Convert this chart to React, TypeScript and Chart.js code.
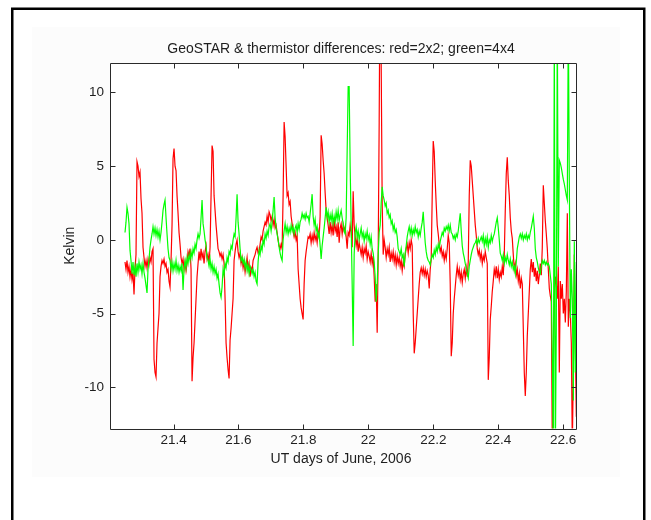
import React, { useEffect, useRef } from 'react';
import { Chart, registerables } from 'chart.js';

Chart.register(...registerables);

// Uniform sampling of the time axis (UT days of June 2006)
const T_START = 21.2505;
const T_STEP = 0.003082;

// 2x2 differences (red), Kelvin
const RED_K = [
  -1.5, -2.0, -1.4, -2.2, -1.8, -2.5, -2.0, -2.7, -2.2, -3.7,
  -2.0, -1.0, 5.3, 5.0, 4.3, 4.6, 2.8, 1.8, -0.5, -1.2,
  -1.8, -1.4, -1.9, -1.3, -1.7, -1.2, -1.5, -0.8, -0.6, -8.1,
  -9.0, -9.3, -7.0, -6.0, -5.0, -2.5, -1.8, -1.4, -1.6, -1.3,
  -1.8, -1.6, -2.2, -2.0, -2.8, -3.2, -1.4, 1.0, 5.5, 6.2,
  5.0, 4.7, 3.0, 1.8, 0.5, -0.3, -1.2, -1.6, -1.3, -2.0,
  -1.5, -2.1, -1.6, -0.8, -1.1, -0.6, -2.0, -9.6, -8.0, -7.0,
  -5.5, -4.0, -2.5, -1.6, -0.8, -1.4, -0.6, -1.2, -0.9, -1.6,
  -0.8, -0.4, -1.3, -1.0, -1.6, -0.5, 3.0, 6.4, 6.0, 3.0,
  2.0, 1.0, 0.2, -0.6, -0.8, -1.1, -0.9, -1.3, -1.0, -1.6,
  -4.0, -7.0, -8.0, -8.8, -9.4, -6.8, -6.0, -5.0, -4.0, -1.4,
  -0.8, -0.3, 0.0, -0.8, -1.2, -0.9, -1.6, -1.2, -1.9, -1.5,
  -2.2, -1.7, -1.2, -2.0, -1.6, -2.5, -1.9, -2.1, -1.4, -1.2,
  -1.0, -0.7, -0.5, -0.9, -0.8, -0.3, 0.2, 0.0, 0.6, 0.9,
  1.2, 1.0, 1.6, 1.2, 1.9, 1.7, 1.3, 1.6, 1.0, 1.4,
  0.8, 1.0, 0.5, 0.0, -0.4, -0.6, -0.3, -0.6, 3.0, 8.0,
  7.0, 5.0, 3.0, 3.2, 2.4, 2.6, 1.6, 1.1, 0.6, 0.2,
  0.5, 0.0, 0.3, -2.0, -3.0, -4.0, -4.6, -5.0, -5.4, -3.0,
  -1.4, -0.8, -0.3, 0.2, 0.1, 0.4, -0.2, 0.3, -0.1, 0.5,
  0.0, 0.3, -0.2, 0.6, 0.2, 1.6, 7.1, 6.5, 5.4, 4.5,
  3.2, 2.0, 1.5, 1.0, 0.4, 1.2, 0.5, 1.0, 0.3, 1.4,
  0.6, 0.9, 0.2, 1.2, -0.2, 0.8, 1.1, 0.4, 1.0, 0.6,
  0.9, 0.2, -0.6, 0.5, 0.3, 1.0, 0.5, -0.5, 3.3, 1.0,
  0.2, -0.4, 0.1, -0.8, -0.2, -0.6, -1.0, -0.5, -1.2, -0.6,
  -0.9, -0.4, -1.3, -0.8, -1.1, -1.5, -0.9, -1.6, -1.1, -2.5,
  -4.2, -3.0, -6.3, -1.0, 8.0, 20.0, 12.0, 2.5, -1.0, 0.0,
  -0.5, -1.2, -0.6, -1.0, -0.5, -1.5, -0.9, -1.3, -0.8, -1.5,
  -1.0, -1.7, -1.1, -1.6, -1.2, -1.8, -1.4, -2.1, -1.5, -1.8,
  -1.0, -0.6, -0.3, -0.9, -0.2, -0.6, 0.0, -0.4, -5.0, -7.7,
  -7.0, -6.0, -5.0, -4.0, -3.0, -2.2, -1.9, -2.3, -1.9, -2.4,
  -2.0, -2.5, -2.1, -2.4, -3.3, -2.0, -1.3, 3.0, 6.7, 6.0,
  4.0, 2.4, 1.0, 0.4, -0.3, -0.8, -0.5, -1.1, -0.8, -1.4,
  -0.9, -1.3, -0.6, 0.3, -0.2, -3.0, -7.9, -7.0, -5.0, -4.0,
  -3.2, -2.4, -1.8, -2.4, -2.0, -2.7, -2.2, -2.9, -2.3, -2.0,
  -2.6, -1.9, -2.5, -1.5, 3.0, 5.4, 5.0, 4.0, 3.0, 2.0,
  1.0, 0.3, -0.6, -1.0, -0.7, -1.3, -0.9, -1.6, -1.1, -1.4,
  -0.8, -1.2, -1.6, -9.5, -8.0, -5.4, -4.5, -3.5, -2.8, -2.0,
  -2.4, -1.8, -2.6, -2.0, -2.7, -2.2, -2.5, -1.8, -2.4, -1.0,
  2.0, 4.5, 5.6, 4.0, 3.0, 1.5, 0.6, 0.1, -1.0, -2.0,
  -1.6, -2.4, -2.0, -2.8, -2.3, -3.3, -2.6, -3.0, -6.0, -9.0,
  -10.6, -9.0, -6.5, -5.0, -3.5, -2.0, -1.3, -2.2, -1.5, -2.5,
  -1.9, -2.8, -2.1, -3.0, -2.4, -1.6, -2.4, -0.5, 3.7, 2.5,
  1.3, 0.4, -0.6, -2.0, -3.3, -3.8, -4.2, -14.0, -8.8, -4.0,
  -2.5, -3.0, -4.0, -1.8, -9.0, -2.8, -4.0, -3.0, -5.0, -4.0,
  -5.6, -3.5, 1.8, -5.9, -4.0, -5.0, -7.0, -14.0, -9.0, -1.0,
  -7.0, -12.0,
];

// 4x4 differences (green), Kelvin
const GREEN_K = [
  0.5, 1.2, 2.2, 1.8, 1.1, -0.7, -1.4, -2.3, -1.5, -2.4,
  -1.8, -2.5, -1.6, -2.2, -1.5, -2.0, -1.7, -2.3, -1.6, -2.2,
  -2.6, -3.1, -3.6, -2.0, -1.3, -0.5, 0.0, 0.4, 0.9, 0.4,
  0.8, 0.3, 0.7, 0.2, 0.6, 0.0, 0.5, 1.2, 2.0, 2.4,
  2.7, 1.5, 0.4, -0.6, -1.2, -1.4, -2.0, -1.5, -2.1, -1.6,
  -2.0, -1.4, -2.1, -1.7, -2.2, -1.8, -2.1, -1.6, -3.4, -2.0,
  -1.4, -1.9, -1.2, -1.6, -1.0, -1.4, -0.8, -1.2, -0.6, -0.9,
  -0.3, -0.6, 0.0, 0.4, 0.1, 0.4, 1.5, 2.7, 1.1, 0.6,
  0.0, -0.4, -1.2, -1.4, -1.8, -1.3, -2.0, -1.6, -2.2, -1.8,
  -2.3, -2.0, -2.6, -2.3, -3.0, -3.6, -3.9, -3.2, -2.0, -2.4,
  -1.6, -1.9, -1.2, -1.5, -0.8, -1.0, -0.4, -0.6, 0.0, 0.4,
  0.2, 1.5, 3.1, 1.2, 0.4, -0.6, -1.4, -1.2, -1.6, -1.3,
  -1.9, -1.5, -2.1, -1.7, -2.3, -1.8, -2.0, -2.3, -2.0, -2.5,
  -2.2, -2.8, -3.0, -1.5, -0.7, -1.0, -0.4, -0.7, 0.0, -0.3,
  0.4, 0.1, 0.6, 0.3, 0.9, 1.1, 0.6, 1.2, 2.0, 2.9,
  1.5, 0.8, 0.4, 0.0, -0.5, -0.9, -1.2, -1.4, 0.0, 0.6,
  1.1, 0.5, 0.9, 0.4, 0.8, 0.5, 1.0, 0.6, 0.9, 0.4,
  0.8, 1.0, 0.5, 1.1, 0.7, 1.2, 1.4, 1.8, 1.5, 1.7,
  1.4, 1.8, 1.5, 1.6, 1.2, 1.8, 2.4, 3.1, 1.6, 1.0,
  1.4, 0.6, 0.9, 0.2, 0.5, -0.4, -1.3, -0.4, 0.2, 0.8,
  1.5, 2.2, 1.5, 1.9, 1.2, 1.7, 1.3, 1.8, 1.1, 1.6,
  1.2, 1.9, 1.4, 2.0, 1.3, 1.7, 2.0, 1.5, 1.1, 0.6,
  0.4, 1.5, 6.0, 10.4, 10.4, 5.0, 1.0, -3.0, -7.2, -1.0,
  0.5, 0.9, 0.2, 0.6, 0.0, 0.4, 0.8, 0.2, 0.5, -0.1,
  0.4, 0.1, 0.6, 0.0, 0.3, -0.3, 0.2, -0.6, -0.9, -1.5,
  -2.5, -4.2, -3.0, -1.0, 0.5, 1.0, 2.5, 3.6, 3.0, 2.7,
  2.3, 2.5, 1.8, 2.0, 1.5, 1.7, 1.1, 1.3, 0.7, 1.0,
  0.5, 0.7, 0.2, -0.6, -0.8, -1.0, -0.6, -1.2, -1.0, -1.8,
  -0.9, -0.4, 0.2, 0.6, 0.9, 0.4, 0.8, 0.3, 0.7, 0.4,
  0.9, 0.5, 0.7, 0.2, 0.6, 0.3, 0.8, 1.2, 1.9, 0.8,
  -0.2, -0.8, -1.2, -1.4, -1.5, -1.7, -1.3, -1.0, -1.2, -0.7,
  -1.0, -0.5, -0.8, -0.3, -0.6, -0.1, 0.2, 0.5, 0.3, 0.8,
  0.6, 0.9, 0.7, 1.0, 0.6, 1.0, 0.5, 0.4, 0.1, 0.3,
  0.0, 0.4, 0.2, 0.6, 1.2, 1.8, 0.6, -0.4, -0.9, -1.2,
  -1.6, -1.9, -2.3, -2.6, -1.8, -1.4, -1.0, -0.7, -0.5, -0.3,
  -0.2, 0.0, -0.3, 0.1, -0.2, 0.0, 0.2, -0.1, 0.3, -0.4,
  0.1, -0.3, 0.2, -0.5, 0.0, -0.2, 0.3, -0.1, 0.2, 0.4,
  0.8, 1.2, 1.5, 0.8, 0.0, -0.9, -1.1, -1.4, -1.0, -1.6,
  -1.2, -1.5, -1.0, -1.4, -1.7, -1.3, -1.8, -1.5, -2.0, -1.8,
  -2.3, -1.5, -0.6, -0.2, 0.2, 0.4, 0.1, 0.4, 0.0, 0.3,
  0.1, 0.4, 0.0, 0.3, 0.1, 0.5, 0.8, 1.2, 1.6, 0.8,
  -0.6, -1.2, -1.5, -1.9, -2.2, -2.3, -1.8, -1.4, -1.6, -1.4,
  -1.7, -1.5, -1.7, -1.6, -1.8, -2.4, -3.0, -8.0, -15.0, 15.0,
  -15.0, -6.0, 15.0, -1.8, 5.4, 5.2, 4.9, 4.5, 4.1, 3.8,
  3.4, 3.0, 2.7, 15.0, 4.0, -5.3, -2.0, -4.0, -10.9, -0.1,
  -9.0, -1.5,
];

const X_MIN = 21.2043;
const X_MAX = 22.6395;
const Y_MIN = -12.8;
const Y_MAX = 12;
const X_TICKS = [21.4, 21.6, 21.8, 22, 22.2, 22.4, 22.6];
const Y_TICKS = [-10, -5, 0, 5, 10];

const TITLE = 'GeoSTAR & thermistor differences: red=2x2; green=4x4';
const X_LABEL = 'UT days of June, 2006';
const Y_LABEL = 'Kelvin';

const FONT_FAMILY = '"Liberation Sans", Arial, Helvetica, sans-serif';
const TEXT_COLOR = '#1e1e1e';
const AXIS_COLOR = '#2a2a2a';

const figurePlugin = {
  id: 'matlabFigure',
  beforeDraw(chart: any) {
    const ctx = chart.ctx as CanvasRenderingContext2D;
    const a = chart.chartArea;
    ctx.save();
    ctx.fillStyle = '#ffffff';
    ctx.fillRect(0, 0, chart.width, chart.height);
    ctx.fillStyle = '#fcfcfc';
    ctx.fillRect(32, 27, 588, 450);
    ctx.fillStyle = '#ffffff';
    ctx.fillRect(a.left, a.top, a.right - a.left, a.bottom - a.top);
    ctx.strokeStyle = '#000000';
    ctx.lineWidth = 2.5;
    ctx.strokeRect(12.25, 8.75, 632, 560);
    ctx.restore();
  },
  afterDraw(chart: any) {
    const ctx = chart.ctx as CanvasRenderingContext2D;
    const a = chart.chartArea;
    const xs = chart.scales.x;
    const ys = chart.scales.y;
    const L = Math.round(a.left) + 0.5;
    const R = Math.round(a.right) + 0.5;
    const T = Math.round(a.top) + 0.5;
    const B = Math.round(a.bottom) + 0.5;
    ctx.save();
    ctx.strokeStyle = AXIS_COLOR;
    ctx.lineWidth = 1;
    ctx.beginPath();
    ctx.rect(L, T, R - L, B - T);
    const tl = 5;
    X_TICKS.forEach((v) => {
      const px = Math.round(xs.getPixelForValue(v)) + 0.5;
      ctx.moveTo(px, B);
      ctx.lineTo(px, B - tl);
      ctx.moveTo(px, T);
      ctx.lineTo(px, T + tl);
    });
    Y_TICKS.forEach((v) => {
      const py = Math.round(ys.getPixelForValue(v)) + 0.5;
      ctx.moveTo(L, py);
      ctx.lineTo(L + tl, py);
      ctx.moveTo(R, py);
      ctx.lineTo(R - tl, py);
    });
    ctx.stroke();

    ctx.fillStyle = TEXT_COLOR;
    ctx.font = `14px ${FONT_FAMILY}`;
    ctx.textAlign = 'center';
    ctx.textBaseline = 'middle';
    const cx = (a.left + a.right) / 2 - 2;
    ctx.fillText(TITLE, cx, 49);
    ctx.fillText(X_LABEL, cx, 459);
    ctx.translate(70, (a.top + a.bottom) / 2);
    ctx.rotate(-Math.PI / 2);
    ctx.fillText(Y_LABEL, 0, 0);
    ctx.restore();
  },
};

export default function App() {
  const ref = useRef<HTMLCanvasElement | null>(null);

  useEffect(() => {
    const canvas = ref.current;
    if (!canvas) return;
    const redPts = RED_K.map((v, i) => ({ x: T_START + i * T_STEP, y: v }));
    const greenPts = GREEN_K.map((v, i) => ({ x: T_START + i * T_STEP, y: v }));
    const tickFont = { family: FONT_FAMILY, size: 13.5 };
    const fmt = (v: any) => String(Math.round(Number(v) * 10) / 10);

    const chart = new Chart(canvas, {
      type: 'line',
      data: {
        datasets: [
          {
            label: '4x4',
            data: greenPts,
            borderColor: '#00ff00',
            backgroundColor: '#00ff00',
            borderWidth: 1.2,
            pointRadius: 0,
            tension: 0,
            fill: false,
            order: 0,
          },
          {
            label: '2x2',
            data: redPts,
            borderColor: '#ff0000',
            backgroundColor: '#ff0000',
            borderWidth: 1.2,
            pointRadius: 0,
            tension: 0,
            fill: false,
            order: 1,
          },
        ],
      },
      options: {
        animation: false,
        responsive: false,
        devicePixelRatio: 1,
        events: [],
        layout: { padding: { left: 0, right: 75, top: 63, bottom: 0 } },
        plugins: {
          legend: { display: false },
          tooltip: { enabled: false },
          title: { display: false },
        },
        scales: {
          x: {
            type: 'linear',
            min: X_MIN,
            max: X_MAX,
            grid: { display: false, drawTicks: false, tickLength: 0 },
            border: { display: false },
            afterBuildTicks: (s: any) => {
              s.ticks = X_TICKS.map((v) => ({ value: v }));
            },
            afterFit: (s: any) => {
              s.height = 91.5;
            },
            ticks: {
              padding: 4,
              color: TEXT_COLOR,
              font: tickFont,
              maxRotation: 0,
              autoSkip: false,
              callback: fmt,
            },
          },
          y: {
            type: 'linear',
            min: Y_MIN,
            max: Y_MAX,
            grid: { display: false, drawTicks: false, tickLength: 0 },
            border: { display: false },
            afterBuildTicks: (s: any) => {
              s.ticks = Y_TICKS.map((v) => ({ value: v }));
            },
            afterFit: (s: any) => {
              s.width = 110;
            },
            ticks: {
              padding: 6,
              color: TEXT_COLOR,
              font: tickFont,
              autoSkip: false,
              callback: fmt,
            },
          },
        },
      } as any,
      plugins: [figurePlugin],
    });
    return () => chart.destroy();
  }, []);

  return (
    <div style={{ position: 'absolute', left: 0, top: 0, width: 651, height: 520, background: '#ffffff' }}>
      <canvas ref={ref} width={651} height={520} style={{ display: 'block', width: 651, height: 520 }} />
    </div>
  );
}
